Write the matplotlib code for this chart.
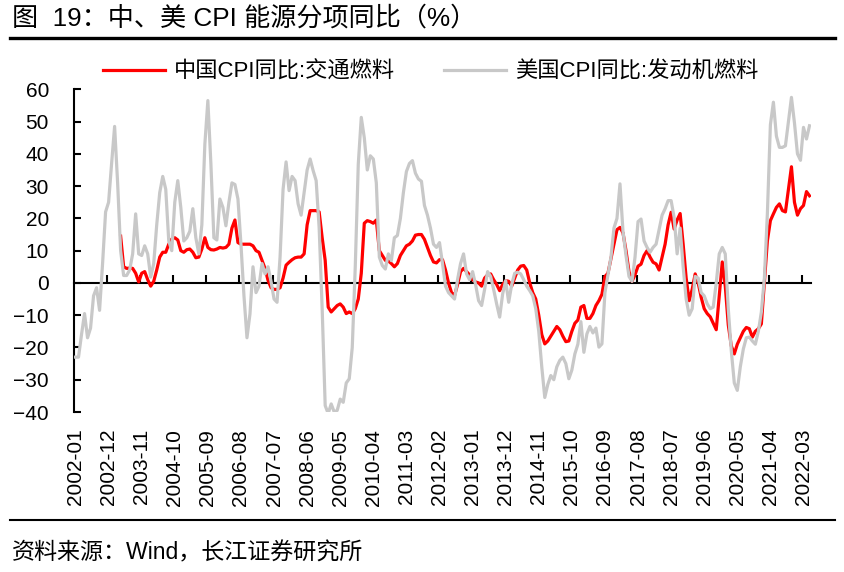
import numpy as np
import pandas as pd
import matplotlib
matplotlib.use("Agg")
import matplotlib.pyplot as plt
from matplotlib.lines import Line2D

plt.rcParams['font.family'] = ['Liberation Sans', 'Noto Sans CJK SC']

# monthly, 2002-01 .. 2022-05
months = pd.period_range('2002-01', '2022-05', freq='M').strftime('%Y-%m').tolist()

# 美国CPI同比:发动机燃料 (%)
us_fuel = [
    -23, -23, -16, -9.5, -17, -14, -4, -1.5, -8.5, 6, 22, 25,          # 2002
    37, 48.5, 31, 10, 2.3, 2.3, 4, 9, 21.4, 9, 8.5, 11.5,              # 2003
    9, 1.8, 6, 18, 28, 33, 29, 13, 10, 25, 31.7, 23.4,                 # 2004
    13, 14, 16, 23, 14, 9, 18, 43, 56.5, 37, 14, 13.3,                 # 2005
    26, 23.4, 17.7, 25, 31, 30.5, 26, 12, -4, -17, -9.6, 5,            # 2006
    -3, -1, 6, 2.8, 5, 0.5, -5, -6, 8, 29, 37.5, 28.6,                 # 2007
    33, 31.7, 24.5, 21, 28, 35, 38.4, 34.8, 31.7, 17, -8, -38,         # 2008
    -40.5, -37.5, -40, -39.5, -36, -37, -31, -29.7, -20, 5, 36.8, 51.3,  # 2009
    45, 35, 39.4, 38.4, 31, 8, 5.4, 4.3, 9, 6.9, 14, 14.7,             # 2010
    20, 28, 34.5, 37, 37.9, 34, 32.2, 31.5, 24, 21, 17, 12,            # 2011
    11, 12.5, 6, -1, -3, -4, -5, 1, 6, 9, 2.8, 1,                      # 2012
    3.5, -0.5, -5.5, -7, -2, 3.5, 2, -2, -6.5, -10.6, -3.4, 0.7,       # 2013
    -6, -0.5, 3, 3.3, 2.8, 1, -1, -2.4, -4, -8, -15, -26,              # 2014
    -35.5, -31.5, -28.7, -30, -26, -24, -23, -25, -29.7, -27, -22, -19,  # 2015
    -12, -21.5, -15.8, -13.5, -15.5, -14, -19.9, -18.9, -3, 2.5, 8, 17,  # 2016
    20, 30.7, 16, 8.5, 2, 0.5, 8, 19, 19.8, 13, 11, 9.5,               # 2017
    11, 12, 16.5, 21, 23, 25.5, 25.5, 20.3, 9, 17, 5, -5,              # 2018
    -10, -8, 2, 1.5, -3, -4, -6.5, -8, -7.5, 0, 9, 11,                 # 2019
    9, -8, -21, -31, -33.3, -26, -20.5, -17, -16.8, -18, -19, -15,     # 2020
    -9, 1.5, 21.5, 49, 56, 45.5, 42, 42, 42.5, 50, 57.5, 49.6,         # 2021
    40, 38, 48.2, 44.6, 48.7,                                          # 2022
]

# 中国CPI同比:交通燃料 (%)
cn_fuel = [
    None, None, None, None, None, None, None, None, None, None, None, None,  # 2002
    None, None, None, 14.5, 5, 4.5, 4.6, 4.5, 3, 0.3, 3, 3.5,          # 2003
    1, -1, 0.5, 4, 8, 9.5, 9.5, 12, 13.6, 14, 13.3, 10,                # 2004
    9.5, 10.3, 10.5, 9.5, 7.8, 8, 10.5, 14, 11, 10.3, 10.2, 10.5,      # 2005
    11, 10.8, 11, 12, 17, 19.5, 12.5, 12, 12, 12, 12, 11.5,            # 2006
    10, 9.5, 7, 4.5, 0.8, -1.5, -2, -2, -1.5, 1.5, 5.5, 6.4,           # 2007
    7.2, 7.8, 8, 8, 9, 18, 22.4, 22.4, 22.4, 22, 14, 7,                # 2008
    -7.5, -9, -8, -7, -6.5, -7.5, -9.5, -9, -9.5, -8, -5, 3,           # 2009
    18.5, 19.3, 19, 18.5, 19.5, 10, 8.5, 7, 6.8, 6, 5, 6,              # 2010
    8.5, 10, 11.5, 12, 13, 14.8, 15, 15, 13.5, 11, 8.5, 6.5,           # 2011
    6.2, 7.2, 7.2, 4, 0, -3, -3.9, -0.5, 3.5, 4.5, 3.5, 2.5,           # 2012
    1, 0.3, 0, -1, 1.5, 2.5, 2.8, 1, -0.5, -2.4, -0.5, 0.7,            # 2013
    0.5, -1, 1.5, 4, 5.2, 5.4, 4, 0, -3, -5, -10, -16,                 # 2014
    -18.9, -18, -16.5, -15, -13.5, -14.5, -16.5, -18.2, -18, -15, -12.5, -11.5,  # 2015
    -7.5, -7, -11, -11, -9.5, -7, -5.5, -3.5, 2, 3, 7.5, 12,           # 2016
    16.5, 17.2, 15.5, 10, 3.5, 0.5, 2.5, 5.2, 5.8, 8.5, 10, 8,         # 2017
    6.4, 5.9, 4, 8, 12, 18, 21.9, 16.7, 19.5, 21.5, 12, 1.5,           # 2018
    -5.5, -2, 2.8, 0, -4.5, -8, -9.5, -10.5, -12.5, -14.5, -4, 6.5,    # 2019
    -1, -13, -19.5, -22, -19, -17, -15, -13.8, -14.2, -16.8, -15, -14.2,  # 2020
    -12.7, 0, 13, 19.3, 21.4, 23.4, 24.5, 22.4, 22, 29, 36, 25,        # 2021
    21, 23, 24, 28.3, 27,                                              # 2022
]

us = np.array(us_fuel, dtype=float)
cn = np.array(cn_fuel, dtype=float)
x = np.arange(len(months))

W, H = 845, 572
fig = plt.figure(figsize=(W / 100, H / 100), dpi=100)
ax = fig.add_axes([74 / W, 1 - 412 / H, 737 / W, 322.7 / H])

ax.plot(x, cn, color='#FF0000', lw=2.3, label='中国CPI同比:交通燃料', zorder=3)
ax.plot(x, us, color='#C8C8C8', lw=2.3, label='美国CPI同比:发动机燃料', zorder=4)

ax.set_xlim(-0.5, len(x) - 0.5)
ax.set_ylim(-40, 60)
ax.set_yticks(range(-40, 61, 10))
ax.tick_params(axis='y', direction='in', length=5, width=1.5, labelsize=15, pad=18)

ax.set_xticks(x[::11])
ax.set_xticklabels(months[::11], rotation=90)
ax.tick_params(axis='x', length=0, labelsize=15, pad=12)

for s in ['top', 'right', 'bottom']:
    ax.spines[s].set_visible(False)
ax.spines['left'].set_linewidth(1.5)

# horizontal axis line at zero, tick marks between categories
sec = ax.secondary_xaxis(0.4)
sec.set_xticks(x[11::11] - 0.5)
sec.tick_params(direction='in', length=6, width=1.5, labelbottom=False)
sec.spines['bottom'].set_linewidth(1.5)

ax.legend(loc='center left', bbox_to_anchor=(103 / W, 1 - 71.7 / H),
          bbox_transform=fig.transFigure, ncol=2, frameon=False, fontsize=16,
          handlelength=2.8, handletextpad=0.4, columnspacing=2.2,
          borderpad=0, borderaxespad=0)

fig.text(12 / W, 1 - 18 / H, '图  19：中、美 CPI 能源分项同比（%）',
         fontsize=18.8, ha='left', va='center')
fig.add_artist(Line2D([10 / W, 835 / W], [1 - 38 / H] * 2, color='black',
                      lw=2.4, transform=fig.transFigure))
fig.add_artist(Line2D([10 / W, 835 / W], [1 - 520 / H] * 2, color='black',
                      lw=1.5, transform=fig.transFigure))
fig.text(12 / W, 1 - 553 / H, '资料来源：Wind，长江证券研究所',
         fontsize=16.6, ha='left', va='center')

fig.savefig('out.png', dpi=100)
